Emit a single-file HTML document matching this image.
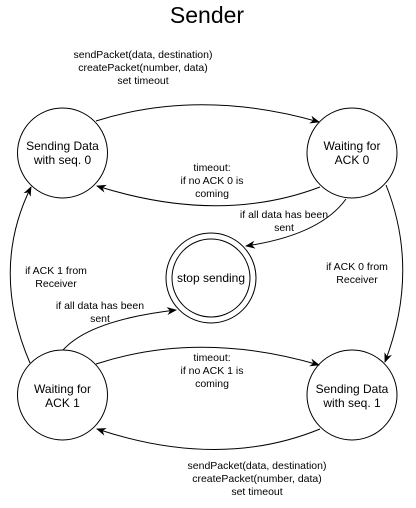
<!DOCTYPE html>
<html><head><style>body{margin:0;background:#fff}svg{display:block}text{font-family:"Liberation Sans",Arial,sans-serif;font-size:10.5px;fill:#000}</style></head>
<body>
<svg width="416" height="508" viewBox="0 0 416 508" xmlns="http://www.w3.org/2000/svg">
<defs><marker id="a" markerWidth="10" markerHeight="8" refX="9" refY="4" orient="auto" markerUnits="userSpaceOnUse"><path d="M0,0 L10,4 L0,8 L3,4 Z" fill="#000"/></marker></defs>
<text x="207" y="23" text-anchor="middle" style="font-size:23px">Sender</text>
<g fill="none" stroke="#000" stroke-width="1">
<circle cx="62.5" cy="153" r="45"/>
<circle cx="352" cy="153" r="45"/>
<circle cx="211" cy="278" r="45"/>
<circle cx="211" cy="278" r="39"/>
<circle cx="62.5" cy="395" r="45"/>
<circle cx="352" cy="395" r="45"/>
<path d="M96,121 Q200,88 319,122" marker-end="url(#a)"/>
<path d="M320,187 Q220,225 97,186" marker-end="url(#a)"/>
<path d="M346,199 Q320,235 246,246" marker-end="url(#a)"/>
<path d="M386,185 Q420,270 385,362" marker-end="url(#a)"/>
<path d="M30,363 Q-10,270 31,187" marker-end="url(#a)"/>
<path d="M63,350 Q90,320 176,310" marker-end="url(#a)"/>
<path d="M96,364 Q200,330 319,365" marker-end="url(#a)"/>
<path d="M320,429 Q220,470 97,429" marker-end="url(#a)"/>
</g>
<g text-anchor="middle">
<text x="143" y="58">sendPacket(data, destination)</text>
<text x="143" y="71">createPacket(number, data)</text>
<text x="143" y="84">set timeout</text>
<text x="62.5" y="150" style="font-size:12px">Sending Data</text>
<text x="62.5" y="164" style="font-size:12px">with seq. 0</text>
<text x="352" y="150" style="font-size:12px">Waiting for</text>
<text x="352" y="164" style="font-size:12px">ACK 0</text>
<text x="212" y="171">timeout:</text>
<text x="212" y="184">if no ACK 0 is</text>
<text x="212" y="197">coming</text>
<text x="284" y="218">if all data has been</text>
<text x="284" y="231">sent</text>
<text x="211" y="282" style="font-size:12px">stop sending</text>
<text x="56" y="274">if ACK 1 from</text>
<text x="56" y="287">Receiver</text>
<text x="357" y="270">if ACK 0 from</text>
<text x="357" y="283">Receiver</text>
<text x="100" y="309">if all data has been</text>
<text x="100" y="322">sent</text>
<text x="212" y="361">timeout:</text>
<text x="212" y="374">if no ACK 1 is</text>
<text x="212" y="387">coming</text>
<text x="62.5" y="393" style="font-size:12px">Waiting for</text>
<text x="62.5" y="407" style="font-size:12px">ACK 1</text>
<text x="352" y="393" style="font-size:12px">Sending Data</text>
<text x="352" y="407" style="font-size:12px">with seq. 1</text>
<text x="257" y="469">sendPacket(data, destination)</text>
<text x="257" y="482">createPacket(number, data)</text>
<text x="257" y="495">set timeout</text>
</g>
</svg>
</body></html>
